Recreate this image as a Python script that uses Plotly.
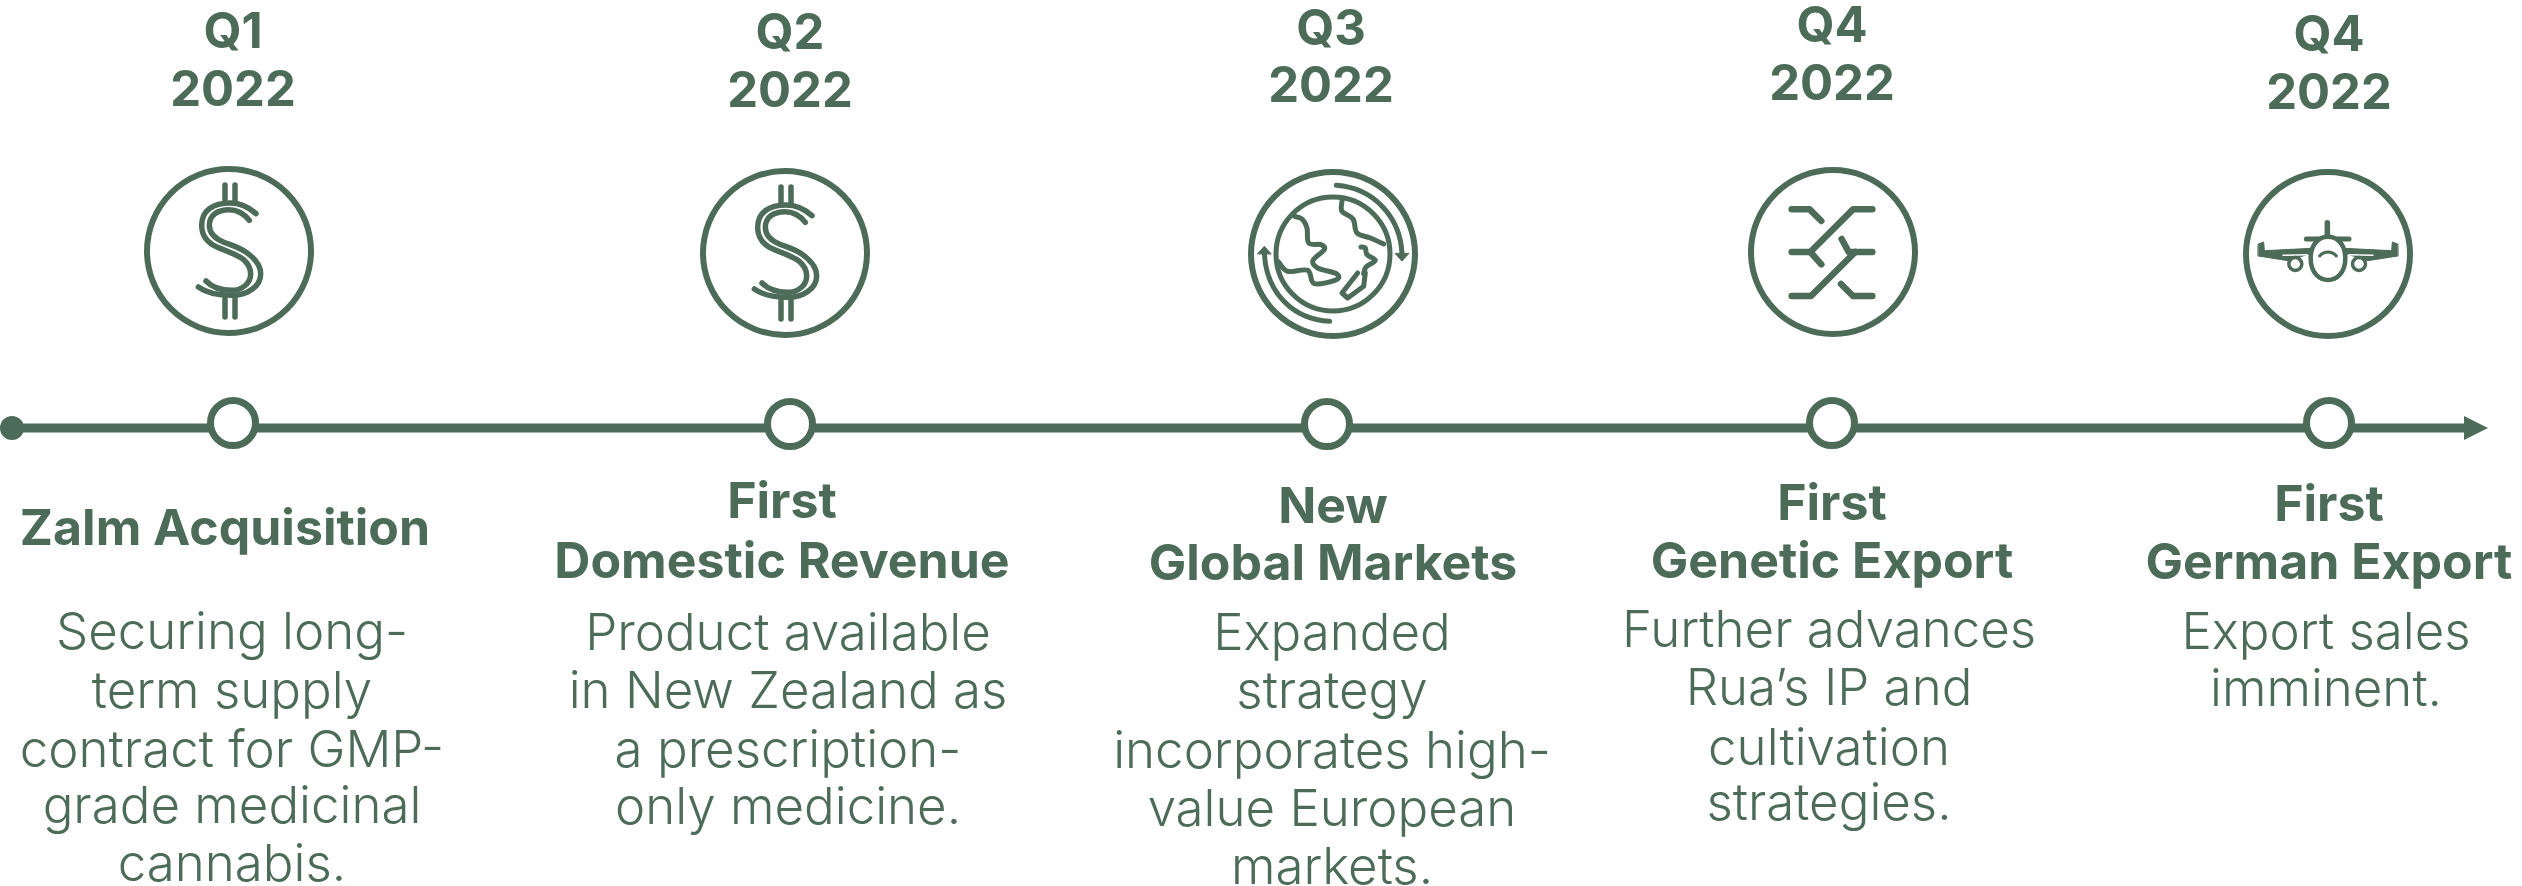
import re
import plotly.graph_objects as go

# ---------- data ----------
periods = [["Q1", "2022"], ["Q2", "2022"], ["Q3", "2022"], ["Q4", "2022"], ["Q4", "2022"]]
titles = [["Zalm Acquisition"], ["First", "Domestic Revenue"], ["New", "Global Markets"],
          ["First", "Genetic Export"], ["First", "German Export"]]
bodies = [["Securing long-", "term supply", "contract for GMP-", "grade medicinal", "cannabis."],
          ["Product available", "in New Zealand as", "a prescription-", "only medicine."],
          ["Expanded", "strategy", "incorporates high-", "value European", "markets."],
          ["Further advances", "Rua’s IP and", "cultivation", "strategies."],
          ["Export sales", "imminent."]]

marker_x = [233, 790, 1327, 1832, 2329]
marker_y = [423, 424, 424, 423, 423]
icon_x = [229, 785, 1333, 1833, 2328]
icon_y = [251, 253, 254, 252, 254]

period_x = [233, 790, 1331, 1832, 2329]
period_y = [[36, 94], [37, 95], [33, 90], [30, 88], [39, 97]]
title_x = [225, 782, 1333, 1832, 2329]
title_y = [[532], [505, 565], [510, 567], [507, 565], [508, 566]]
body_x = [232, 788, 1332, 1829, 2326]
body_y = [[636, 695, 754, 810, 868], [637, 695, 754, 811], [637, 695, 755, 813, 871],
          [634, 692, 752, 807], [636, 693]]

axis_start, axis_end, axis_tip, axis_y = 12, 2464, 2488, 428

GREEN = "#4C6B58"
FONT = "Inter"


def flat(xs, ys, texts):
    ox, oy, ot = [], [], []
    for x, yl, tl in zip(xs, ys, texts):
        for y, t in zip(yl, tl):
            ox.append(x); oy.append(y); ot.append(t)
    return ox, oy, ot


fig = go.Figure()

# axis
fig.add_trace(go.Scatter(x=[axis_start, axis_end], y=[axis_y, axis_y], mode="lines",
                         line=dict(color=GREEN, width=9)))
fig.add_trace(go.Scatter(x=[axis_end, axis_end, axis_tip, axis_end], y=[axis_y - 12, axis_y + 12, axis_y, axis_y - 12],
                         mode="lines", fill="toself", fillcolor=GREEN, line=dict(color=GREEN, width=0)))
fig.add_trace(go.Scatter(x=[axis_start], y=[axis_y], mode="markers",
                         marker=dict(size=24, color=GREEN)))
fig.add_trace(go.Scatter(x=marker_x, y=marker_y, mode="markers",
                         marker=dict(size=45, color="white", line=dict(color=GREEN, width=7))))

# text
for xs, ys, ts, size, weight in [(period_x, period_y, periods, 49, 700),
                                 (title_x, title_y, titles, 50, 700),
                                 (body_x, body_y, bodies, 51, 300)]:
    x, y, t = flat(xs, ys, ts)
    fig.add_trace(go.Scatter(x=x, y=y, text=t, mode="text", textposition="middle center",
                             textfont=dict(family=FONT, size=size, color=GREEN, weight=weight)))


# ---------- icons (drawn in crop units, 3 units = 1 px, centred on origin) ----------
def place(path, cx, cy, ox, oy):
    nums = iter(re.findall(r"[A-Za-z]|-?\d+\.?\d*", path))
    out = []
    for tok in nums:
        if tok.isalpha():
            out.append(tok)
        else:
            x = float(tok); y = float(next(nums))
            out.append(f"{cx + (x - ox) / 3:.2f},{cy + (y - oy) / 3:.2f}")
    return " ".join(out)


def smooth(p):
    s = f"M{p[0][0]} {p[0][1]}"
    for i in range(len(p) - 1):
        p0 = p[max(i - 1, 0)]; p1 = p[i]; p2 = p[i + 1]; p3 = p[min(i + 2, len(p) - 1)]
        c1 = (p1[0] + (p2[0] - p0[0]) / 6, p1[1] + (p2[1] - p0[1]) / 6)
        c2 = (p2[0] - (p3[0] - p1[0]) / 6, p2[1] - (p3[1] - p1[1]) / 6)
        s += f" C{c1[0]:.1f} {c1[1]:.1f} {c2[0]:.1f} {c2[1]:.1f} {p2[0]} {p2[1]}"
    return s


def stroke(path, cx, cy, ox, oy, w, fill=None, color=GREEN):
    fig.add_shape(type="path", path=place(path, cx, cy, ox, oy),
                  line=dict(color=color, width=w), fillcolor=fill, layer="above")


def ring(cx, cy, r, w, fill=None):
    fig.add_shape(type="circle", x0=cx - r, x1=cx + r, y0=cy - r, y1=cy + r,
                  line=dict(color=GREEN, width=w), fillcolor=fill, layer="above")


dollar = ["M378 160 C350 135 325 128 300 128 C250 128 215 150 215 195 C215 235 240 252 265 262 "
          "C300 276 325 285 340 297 C355 310 362 325 362 340 C362 370 335 390 305 390 C270 390 245 380 228 362",
          "M358 180 C340 157 320 148 297 148 C262 148 238 165 238 195 C238 222 258 236 280 245 "
          "C305 255 330 262 350 277 C375 295 392 315 392 340 C392 380 350 405 305 405 C265 405 230 398 205 380",
          "M285 74 L285 125", "M315 74 L315 125", "M285 415 L285 470", "M315 415 L315 470"]
for i in (0, 1):
    ring(icon_x[i], icon_y[i], 82, 6)
    for d in dollar:
        stroke(d, icon_x[i], icon_y[i], 297, 272, 5.5)

# globe
cx, cy = icon_x[2], icon_y[2]
ring(cx, cy, 82, 6)
ring(cx, cy, 57, 5)
globe_paths = [
    smooth([(283, 260), (305, 268), (320, 295), (325, 340), (362, 345), (372, 360), (338, 392), (352, 415),
            (408, 432), (408, 450), (342, 462), (322, 422), (262, 425), (235, 397)]),
    smooth([(425, 215), (425, 245), (458, 268), (470, 310), (510, 325), (550, 343)]),
    smooth([(482, 352), (495, 355), (500, 375), (525, 392), (497, 412), (490, 432)]),
    "M472 430 L425 490 L442 505 L490 470 L495 430",
    "M408 167 C520 175 600 262 605 372",
    "M388 575 C280 570 195 490 192 365",
]
for d in globe_paths:
    stroke(d, cx, cy, 398, 373, 5)
stroke("M172 372 L192 350 L212 372 Z", cx, cy, 398, 373, 1, fill=GREEN)
stroke("M585 372 L605 394 L625 372 Z", cx, cy, 398, 373, 1, fill=GREEN)

# strands
cx, cy = icon_x[3], icon_y[3]
ring(cx, cy, 82, 6)
for d in ["M214 238 L268 238 L303 273", "M456 238 L398 238 L270 366 L214 366", "M270 366 L303 403",
          "M214 498 L272 498 L405 366", "M456 366 L385 366 L364 327", "M362 462 L398 498 L456 498"]:
    stroke(d, cx, cy, 338, 366, 6.5)

# plane
cx, cy = icon_x[4], icon_y[4]
ring(cx, cy, 82, 6)
stroke("M323 278 L323 318", cx, cy, 325, 372, 5.5)
stroke("M260 327 L388 327", cx, cy, 325, 372, 5)
for wing in ["M116 342 L132 336 L134 362 L278 355 L274 370 L205 392 L116 378 Z",
             "M534 342 L518 336 L516 362 L372 355 L376 370 L445 392 L534 378 Z"]:
    stroke(wing, cx, cy, 325, 372, 1, fill=GREEN)
stroke("M190 376 L262 374", cx, cy, 325, 372, 1.5, color="white")
stroke("M460 376 L388 374", cx, cy, 325, 372, 1.5, color="white")
for ex in (-98, 93):
    ring(cx + ex / 3, cy + 30 / 3, 6.5, 3.5, fill="white")
stroke("M273 385 C273 340 300 320 325 320 C350 320 377 340 377 385 C377 430 350 450 325 450 C300 450 273 430 273 385 Z",
       cx, cy, 325, 372, 4.5, fill="white")
stroke("M300 378 C312 362 338 362 350 378", cx, cy, 325, 372, 3)

fig.update_layout(
    width=2522, height=886, margin=dict(l=0, r=0, t=0, b=0), showlegend=False,
    plot_bgcolor="white", paper_bgcolor="white",
    xaxis=dict(range=[0, 2522], visible=False, fixedrange=True),
    yaxis=dict(range=[886, 0], visible=False, fixedrange=True),
)
fig.write_html("out.html", config=dict(displayModeBar=False),
               post_script="document.body.style.margin='0';"
                           "document.querySelectorAll('.shapelayer path').forEach(function(p){"
                           "p.style.strokeLinecap='round';p.style.strokeLinejoin='round';});")
